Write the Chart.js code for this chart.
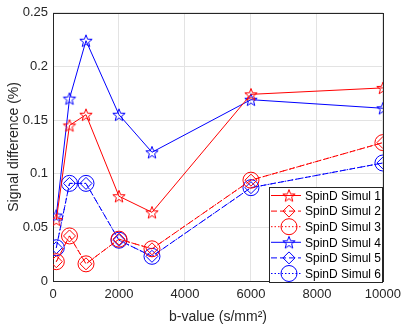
<!DOCTYPE html>
<html lang="en">
<head>
  <meta charset="UTF-8">
  <title>SpinD Simul signal difference</title>
  <script src="https://cdn.jsdelivr.net/npm/chart.js"></script>
  <style>
    html, body { margin: 0; padding: 0; background: #fff; }
    #wrap { width: 407px; height: 330px; }
  </style>
</head>
<body>
  <div id="wrap"><canvas id="chart" width="407" height="330"></canvas></div>

  <script>
    // b-values (s/mm^2) and signal differences (%)
    const bValues = [100, 500, 1000, 2000, 3000, 6000, 10000];
    const simul1 = [0.057, 0.145, 0.155, 0.079, 0.064, 0.174, 0.180];
    const simul2 = [0.018, 0.042, 0.016, 0.039, 0.030, 0.094, 0.129];
    const simul3 = [0.018, 0.042, 0.016, 0.039, 0.030, 0.094, 0.129];
    const simul4 = [0.061, 0.170, 0.224, 0.155, 0.120, 0.169, 0.161];
    const simul5 = [0.031, 0.091, 0.091, 0.038, 0.023, 0.087, 0.110];
    const simul6 = [0.031, 0.091, 0.091, 0.038, 0.023, 0.087, 0.110];
    const seriesNames = ['SpinD Simul 1', 'SpinD Simul 2', 'SpinD Simul 3',
                         'SpinD Simul 4', 'SpinD Simul 5', 'SpinD Simul 6'];
    const xTicks = [0, 2000, 4000, 6000, 8000, 10000];
    const yTicks = [0, 0.05, 0.1, 0.15, 0.2, 0.25];

    const RED = '#ff0000';
    const BLUE = '#0000ff';
    const AXIS = '#262626';
    const FONT = '"Liberation Sans", Arial, sans-serif';

    // MATLAB-like pentagram marker
    function pentagram(color, r) {
      const c = document.createElement('canvas');
      const s = 2 * Math.ceil(r) + 4;
      c.width = s; c.height = s;
      const g = c.getContext('2d');
      const cx = s / 2, cy = s / 2 + 0.6;
      g.beginPath();
      for (let i = 0; i < 10; i++) {
        const rr = i % 2 === 0 ? r : r * 0.42;
        const a = -Math.PI / 2 + i * Math.PI / 5;
        const px = cx + rr * Math.cos(a), py = cy + rr * Math.sin(a);
        if (i === 0) g.moveTo(px, py); else g.lineTo(px, py);
      }
      g.closePath();
      g.strokeStyle = color;
      g.lineWidth = 1;
      g.stroke();
      return c;
    }

    const styles = [
      { color: RED, dash: [], marker: pentagram(RED, 6.5), radius: 7 },
      { color: RED, dash: [6, 3], marker: 'rectRot', radius: 6 },
      { color: RED, dash: [1.5, 2], marker: 'circle', radius: 8 },
      { color: BLUE, dash: [], marker: pentagram(BLUE, 6.5), radius: 7 },
      { color: BLUE, dash: [6, 3], marker: 'rectRot', radius: 6 },
      { color: BLUE, dash: [1.5, 2], marker: 'circle', radius: 8 }
    ];

    const allSeries = [simul1, simul2, simul3, simul4, simul5, simul6];
    const datasets = allSeries.map((vals, i) => ({
      label: seriesNames[i],
      data: bValues.map((b, j) => ({ x: b, y: vals[j] })),
      borderColor: styles[i].color,
      backgroundColor: 'rgba(0,0,0,0)',
      borderWidth: 1,
      borderDash: styles[i].dash,
      pointStyle: styles[i].marker,
      pointRadius: styles[i].radius,
      pointBorderColor: styles[i].color,
      pointBackgroundColor: 'rgba(0,0,0,0)',
      pointBorderWidth: 1,
      tension: 0,
      fill: false
    }));

    // box around the plot area
    const boxPlugin = {
      id: 'box',
      beforeDatasetsDraw(chart) {
        const { ctx, chartArea: a } = chart;
        ctx.save();
        ctx.strokeStyle = AXIS;
        ctx.lineWidth = 1;
        ctx.strokeRect(Math.round(a.left) + 0.5, Math.round(a.top) + 0.5,
                       Math.round(a.right - a.left), Math.round(a.bottom - a.top));
        ctx.restore();
      }
    };

    // legend drawn inside the plot, bottom right
    const legendPlugin = {
      id: 'insideLegend',
      afterDraw(chart) {
        const { ctx, chartArea: a } = chart;
        const w = 113, rowH = 15.6, h = 95;
        const x0 = Math.round(a.right - w - 1), y0 = Math.round(a.bottom - h + 1);
        ctx.save();
        ctx.fillStyle = '#fff';
        ctx.fillRect(x0, y0, w, h);
        ctx.strokeStyle = AXIS;
        ctx.lineWidth = 1;
        ctx.strokeRect(x0 + 0.5, y0 + 0.5, w, h);
        ctx.font = '12px ' + FONT;
        ctx.textBaseline = 'middle';
        chart.data.datasets.forEach((ds, i) => {
          const y = y0 + 8.5 + i * rowH;
          ctx.save();
          ctx.strokeStyle = ds.borderColor;
          ctx.lineWidth = 1;
          ctx.setLineDash(ds.borderDash);
          ctx.beginPath();
          ctx.moveTo(x0 + 2, y);
          ctx.lineTo(x0 + 32, y);
          ctx.stroke();
          ctx.setLineDash([]);
          ctx.fillStyle = 'rgba(0,0,0,0)';
          Chart.helpers.drawPoint(ctx, {
            pointStyle: ds.pointStyle,
            radius: ds.pointRadius,
            rotation: 0,
            borderWidth: 1
          }, x0 + 20, y);
          ctx.restore();
          ctx.fillStyle = '#000';
          ctx.fillText(ds.label, x0 + 36, y + 1);
        });
        ctx.restore();
      }
    };

    const ctx = document.getElementById('chart').getContext('2d');
    new Chart(ctx, {
      type: 'line',
      data: { datasets: datasets },
      plugins: [boxPlugin, legendPlugin],
      options: {
        responsive: false,
        animation: false,
        layout: { padding: { top: 7, right: 20, left: 0, bottom: 0 } },
        plugins: {
          legend: { display: false },
          tooltip: { enabled: false }
        },
        scales: {
          x: {
            type: 'linear',
            min: 0,
            max: 10000,
            afterBuildTicks(scale) { scale.ticks = xTicks.map(v => ({ value: v })); },
            afterFit(scale) { scale.height = 49; },
            grid: { color: '#e3e3e3', drawTicks: false },
            border: { display: false },
            ticks: {
              color: AXIS,
              padding: 6,
              maxRotation: 0,
              font: { family: FONT, size: 13 },
              callback: v => String(v)
            },
            title: {
              display: true,
              text: 'b-value (s/mm²)',
              color: AXIS,
              padding: { top: 1 },
              font: { family: FONT, size: 14 }
            }
          },
          y: {
            type: 'linear',
            min: 0,
            max: 0.25,
            afterBuildTicks(scale) { scale.ticks = yTicks.map(v => ({ value: v })); },
            afterFit(scale) { scale.width = 53; },
            grid: { color: '#e3e3e3', drawTicks: false },
            border: { display: false },
            ticks: {
              color: AXIS,
              padding: 5,
              font: { family: FONT, size: 13 },
              callback: v => String(Math.round(v * 100) / 100)
            },
            title: {
              display: true,
              text: 'Signal difference (%)',
              color: AXIS,
              padding: { top: 6, bottom: 0 },
              font: { family: FONT, size: 14 }
            }
          }
        }
      }
    });
  </script>
</body>
</html>
